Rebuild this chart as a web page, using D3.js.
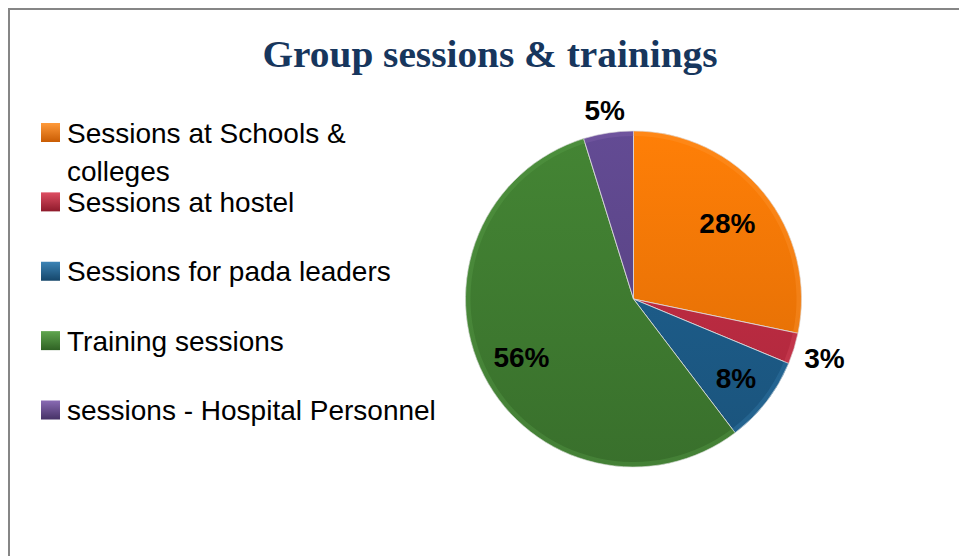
<!DOCTYPE html>
<html lang="en">
<head>
<meta charset="utf-8">
<title>Group sessions &amp; trainings</title>
<style>
body { margin: 0; background: #fff; }
svg text { font-family: "Liberation Sans", Arial, sans-serif; }
</style>
<script src="https://cdn.jsdelivr.net/npm/d3@7"></script>
</head>
<body>
<script>
// Slice shares (percent of all sessions)
var categories = ["Sessions at Schools & colleges", "Sessions at hostel", "Sessions for pada leaders",
                  "Training sessions", "sessions - Hospital Personnel"];
var shares = [28.3, 3.0, 8.4, 55.6, 4.8];
var colours = ["#EE7406", "#BA2B41", "#1C5B87", "#3E7A30", "#5B4587"];
var lightColours = ["#FF9A3A", "#DE4E62", "#3C84B6", "#5FA64E", "#8A6BB4"];
var darkColours = ["#C95C03", "#8E1A2B", "#15466A", "#2F6224", "#463266"];

var width = 959, height = 556;
var cx = 633.5, cy = 299, radius = 168;

var svg = d3.select("body").append("svg")
    .attr("width", width)
    .attr("height", height);

// chart frame
svg.append("rect")
    .attr("x", 9).attr("y", 9)
    .attr("width", 970).attr("height", 570)
    .attr("fill", "#fff")
    .attr("stroke", "#868686")
    .attr("stroke-width", 2);

svg.append("text")
    .attr("x", 490).attr("y", 67)
    .attr("text-anchor", "middle")
    .style("font-family", "'Liberation Serif', 'DejaVu Serif', serif")
    .style("font-weight", "bold")
    .style("font-size", "37px")
    .attr("fill", "#17365D")
    .attr("textLength", 455)
    .attr("lengthAdjust", "spacingAndGlyphs")
    .text("Group sessions & trainings");

var defs = svg.append("defs");
colours.forEach(function(c, i) {
    // slice shading: lighter towards the top, a light rim at the edge
    var g = defs.append("linearGradient")
        .attr("id", "grad" + i)
        .attr("gradientUnits", "userSpaceOnUse")
        .attr("x1", 0).attr("y1", -radius).attr("x2", 0).attr("y2", radius);
    g.append("stop").attr("offset", "0%").attr("stop-color", d3.color(c).brighter(0.25));
    g.append("stop").attr("offset", "100%").attr("stop-color", d3.color(c).darker(0.25));

    var lg = defs.append("linearGradient")
        .attr("id", "leg" + i)
        .attr("x1", 0).attr("y1", 0).attr("x2", 0).attr("y2", 1);
    lg.append("stop").attr("offset", "0%").attr("stop-color", lightColours[i]);
    lg.append("stop").attr("offset", "100%").attr("stop-color", darkColours[i]);
});

var pie = d3.pie().sort(null).value(function(d) { return d; });
var arcs = pie(shares);
var total = d3.sum(shares);

var arc = d3.arc().innerRadius(0).outerRadius(radius);
var rim = d3.arc().innerRadius(radius - 5).outerRadius(radius);

var gPie = svg.append("g").attr("transform", "translate(" + cx + "," + cy + ")");

gPie.selectAll("path.slice")
    .data(arcs)
    .enter()
    .append("path")
        .attr("class", "slice")
        .attr("d", arc)
        .attr("fill", function(d, i) { return "url(#grad" + i + ")"; })
        .attr("stroke", "#e0e0e0")
        .attr("stroke-width", 0.8);

gPie.selectAll("path.rim")
    .data(arcs)
    .enter()
    .append("path")
        .attr("class", "rim")
        .attr("d", rim)
        .attr("fill", function(d, i) { return lightColours[i]; })
        .attr("opacity", 0.3);

// label radii as fraction of radius: inside for big slices, outside for small
var labelPos = [0.72, 1.19, 0.77, 0.75, 1.14];
gPie.selectAll("text.pct")
    .data(arcs)
    .enter()
    .append("text")
        .attr("class", "pct")
        .attr("x", function(d, i) {
            var a = (d.startAngle + d.endAngle) / 2;
            return Math.sin(a) * radius * labelPos[i];
        })
        .attr("y", function(d, i) {
            var a = (d.startAngle + d.endAngle) / 2;
            return -Math.cos(a) * radius * labelPos[i];
        })
        .attr("dy", "0.36em")
        .attr("text-anchor", "middle")
        .style("font-weight", "bold")
        .style("font-size", "28px")
        .attr("fill", "#000")
        .text(function(d) { return Math.round(d.value / total * 100) + "%"; });

// legend
var legendRows = [
    ["Sessions at Schools &", "colleges"],
    ["Sessions at hostel"],
    ["Sessions for pada leaders"],
    ["Training sessions"],
    ["sessions - Hospital Personnel"]
];
var legendY = d3.scalePoint().domain(d3.range(categories.length)).range([132.5, 410]);

var leg = svg.selectAll("g.legend")
    .data(categories)
    .enter()
    .append("g")
        .attr("class", "legend")
        .attr("transform", function(d, i) { return "translate(41," + legendY(i) + ")"; });

leg.append("rect")
    .attr("x", 0).attr("y", -9.5)
    .attr("width", 19).attr("height", 19)
    .attr("fill", function(d, i) { return "url(#leg" + i + ")"; });

leg.append("text")
    .attr("x", 26)
    .attr("y", 10)
    .style("font-size", "28px")
    .attr("fill", "#000")
    .selectAll("tspan")
    .data(function(d, i) { return legendRows[i]; })
    .enter()
    .append("tspan")
        .attr("x", 26)
        .attr("dy", function(d, j) { return j === 0 ? 0 : 38; })
        .text(function(d) { return d; });
</script>
</body>
</html>
